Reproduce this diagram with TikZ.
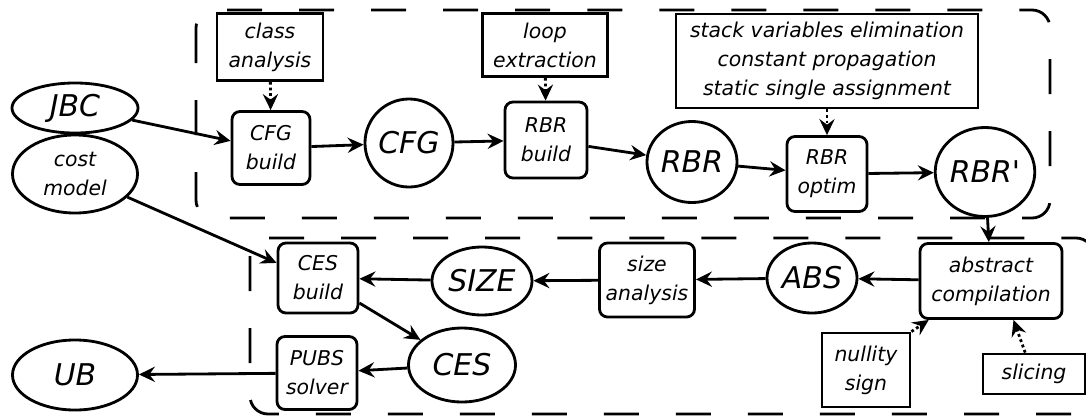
\documentclass[tikz,border=0pt]{standalone}
\usepackage{fontspec}
\setmainfont{DejaVu Sans}
\usetikzlibrary{arrows.meta,shapes.geometric}
\newcommand\lblfont{\fontsize{14.5}{20.6}\selectfont\itshape}
\newcommand\datfont{\fontsize{21.3}{26}\selectfont\itshape}
\tikzset{
	tool/.style={draw,line width=2pt,inner sep=0pt,align=center,font=\lblfont},
	phase/.style={tool,rounded corners=0.2cm},
	data/.style={draw,ellipse,line width=2pt,inner sep=0pt,align=center,font=\datfont},
	flow/.style={->,line width=2pt},
	hint/.style={->,dotted,line width=2pt},
	stage/.style={line width=2pt,dash pattern=on 0.875cm off 0.925cm,rounded corners=0.45cm}
}
\begin{document}
\begin{tikzpicture}[x=0.025cm,y=-0.025cm,>={Stealth[length=0.4cm,width=0.38cm,inset=0.14cm]}]
		\useasboundingbox (0,0) rectangle (1086,416);
		\draw [stage] (196,10) rectangle (1050,218);
		\draw [stage] (250,238) rectangle (1094,414);
		\node [data,minimum width=3.15cm,minimum height=1.25cm] (jbc) at (75,108) {JBC};
		\node [data,font=\lblfont,minimum width=3.125cm,minimum height=1.95cm] (cost) at (75,174) {cost\\model};
		\node [data,minimum width=3.125cm,minimum height=1.75cm] (ub) at (75,375) {UB};
		\node [tool,minimum width=2.65cm,minimum height=1.675cm] (clsa) at (270,47) {class\\analysis};
		\node [phase,minimum width=1.95cm,minimum height=1.825cm] (cfgb) at (271,148) {CFG\\build};
		\node [data,minimum width=2.2cm,minimum height=2.2cm] (cfg) at (409,143) {CFG};
		\node [tool,minimum width=3.125cm,minimum height=1.575cm] (loop) at (545,45) {loop\\extraction};
		\node [phase,minimum width=2.05cm,minimum height=1.9cm] (rbrb) at (546,140) {RBR\\build};
		\node [data,minimum width=2.25cm,minimum height=2.025cm] (rbr) at (692,162) {RBR};
		\node [tool,minimum width=7.55cm,minimum height=2.35cm] (opts) at (827,61) {stack variables elimination\\constant propagation\\static single assignment};
		\node [phase,minimum width=2cm,minimum height=1.875cm] (rbro) at (827,174) {RBR\\optim};
		\node [data,minimum width=2.375cm,minimum height=2.225cm] (rbrp) at (985,172) {RBR\textquotesingle};
		\node [phase,minimum width=3.55cm,minimum height=1.875cm] (absc) at (991,281) {abstract\\compilation};
		\node [data,minimum width=2.25cm,minimum height=1.75cm] (abs) at (812,278) {ABS};
		\node [tool,minimum width=2.2cm,minimum height=1.85cm] (null) at (866,370) {nullity\\sign};
		\node [tool,minimum width=2.55cm,minimum height=1cm] (slic) at (1034,374) {slicing};
		\node [phase,minimum width=2.375cm,minimum height=1.85cm] (sizea) at (647,280) {size\\analysis};
		\node [data,minimum width=2.5cm,minimum height=1.7cm] (size) at (482,281) {SIZE};
		\node [phase,minimum width=2cm,minimum height=1.75cm] (cesb) at (318,278) {CES\\build};
		\node [data,minimum width=2.675cm,minimum height=1.85cm] (ces) at (462,365) {CES};
		\node [phase,minimum width=2cm,minimum height=1.825cm] (pubs) at (317,373) {PUBS\\solver};
		\draw [flow] (jbc) -- (cfgb.170);
		\draw [flow] (cost) -- (cesb.160);
		\draw [hint] (clsa) -- (cfgb);
		\draw [flow] (cfgb) -- (cfg);
		\draw [flow] (cfg) -- (rbrb);
		\draw [hint] (loop) -- (rbrb);
		\draw [flow] (rbrb) -- (rbr);
		\draw [flow] (rbr) -- (rbro);
		\draw [hint] (opts) -- (rbro);
		\draw [flow] (rbro) -- (rbrp);
		\draw [flow] (rbrp) -- (absc);
		\draw [flow] (absc) -- (abs);
		\draw [flow] (abs) -- (sizea);
		\draw [flow] (sizea) -- (size);
		\draw [flow] (size) -- (cesb);
		\draw [flow] (cesb) -- (ces);
		\draw [flow] (ces) -- (pubs);
		\draw [flow] (pubs) -- (ub);
		\draw [hint] (null.north east) -- (absc.-148);
		\draw [hint] ([xshift=-0.22cm]slic.north) -- (absc.-60);
	\end{tikzpicture}
\end{document}
